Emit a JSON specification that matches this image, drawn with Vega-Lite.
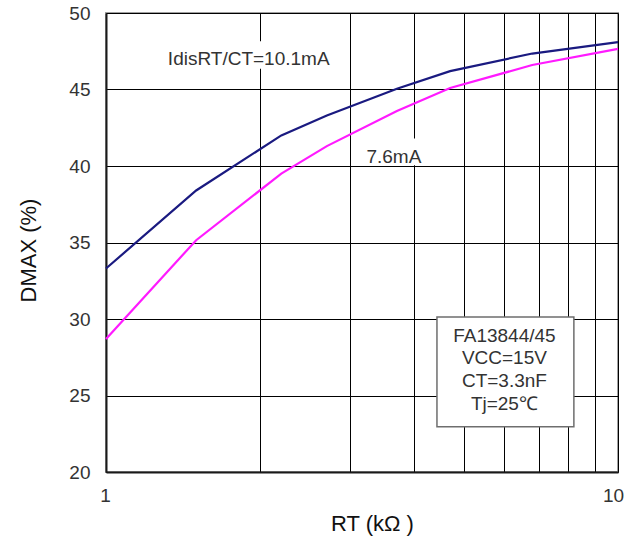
{
  "$schema": "https://vega.github.io/schema/vega-lite/v6.json",
  "width": 512,
  "height": 459,
  "autosize": {"type": "none"},
  "padding": {"left": 106, "top": 13, "right": 20, "bottom": 74},
  "background": "white",
  "config": {
    "font": "Liberation Sans",
    "view": {"stroke": "#a0a0a0", "strokeWidth": 2},
    "axis": {
      "domainColor": "#1a1a1a",
      "domainWidth": 2,
      "gridColor": "#000000",
      "gridWidth": 1,
      "gridOpacity": 1,
      "ticks": false,
      "labelFont": "Liberation Sans",
      "labelFontSize": 19,
      "labelColor": "#333333",
      "titleFont": "Liberation Sans",
      "titleFontSize": 22,
      "titleFontWeight": "normal",
      "titleColor": "#111111"
    }
  },
  "datasets": {
    "curves": [
      {"series": "10.1mA", "rt": 1.0, "dmax": 33.3},
      {"series": "10.1mA", "rt": 1.5, "dmax": 38.4},
      {"series": "10.1mA", "rt": 2.2, "dmax": 42.0},
      {"series": "10.1mA", "rt": 2.7, "dmax": 43.3},
      {"series": "10.1mA", "rt": 3.7, "dmax": 45.05},
      {"series": "10.1mA", "rt": 4.7, "dmax": 46.2},
      {"series": "10.1mA", "rt": 6.8, "dmax": 47.35},
      {"series": "10.1mA", "rt": 10.0, "dmax": 48.1},
      {"series": "7.6mA", "rt": 1.0, "dmax": 28.7},
      {"series": "7.6mA", "rt": 1.5, "dmax": 35.15},
      {"series": "7.6mA", "rt": 2.2, "dmax": 39.5},
      {"series": "7.6mA", "rt": 2.7, "dmax": 41.3},
      {"series": "7.6mA", "rt": 3.7, "dmax": 43.6},
      {"series": "7.6mA", "rt": 4.7, "dmax": 45.1},
      {"series": "7.6mA", "rt": 6.8, "dmax": 46.6},
      {"series": "7.6mA", "rt": 10.0, "dmax": 47.65}
    ],
    "labels": [
      {"text": "IdisRT/CT=10.1mA", "rt": 1.9, "dmax": 47.0, "x1": 1.29, "x2": 2.78, "y1": 46.35, "y2": 48.15},
      {"text": "7.6mA", "rt": 3.65, "dmax": 40.6, "x1": 3.15, "x2": 4.2, "y1": 40.05, "y2": 41.8}
    ],
    "conditions": [
      {"text": "FA13844/45", "rt": 6.0, "dmax": 28.89},
      {"text": "VCC=15V", "rt": 6.0, "dmax": 27.42},
      {"text": "CT=3.3nF", "rt": 6.0, "dmax": 25.92},
      {"text": "Tj=25℃", "rt": 6.0, "dmax": 24.45}
    ],
    "box": [
      {"x1": 4.43, "x2": 8.2, "y1": 22.95, "y2": 30.13}
    ]
  },
  "layer": [
    {
      "data": {"name": "curves"},
      "mark": {"type": "line", "strokeWidth": 2.2, "interpolate": "linear"},
      "encoding": {
        "x": {
          "field": "rt", "type": "quantitative",
          "scale": {"type": "log", "domain": [1, 10], "nice": false},
          "axis": {
            "title": "RT (kΩ )",
            "values": [1, 2, 3, 4, 5, 6, 7, 8, 9, 10],
            "grid": true,
            "labelExpr": "datum.value == 1 || datum.value == 10 ? datum.value : ''",
            "labelPadding": 14,
            "labelFlush": false,
            "labelOffset": {"condition": {"test": "datum.value == 10", "value": -5}, "value": -1},
            "labelOverlap": false,
            "titleX": 266,
            "titleY": 51,
            "titleBaseline": "middle",
            "titleAlign": "center"
          }
        },
        "y": {
          "field": "dmax", "type": "quantitative",
          "scale": {"domain": [20, 50], "nice": false, "zero": false},
          "axis": {
            "title": "DMAX (%)",
            "values": [20, 25, 30, 35, 40, 45, 50],
            "labelPadding": 16,
            "titleAngle": -90,
            "titleX": -78,
            "titleY": 237,
            "titleBaseline": "middle",
            "titleAlign": "center"
          }
        },
        "color": {
          "field": "series", "type": "nominal",
          "scale": {"domain": ["10.1mA", "7.6mA"], "range": ["#1a1a80", "#ff1aff"]},
          "legend": null
        }
      }
    },
    {
      "data": {"name": "box"},
      "mark": {"type": "rect", "fill": "white", "stroke": "#6e6e6e", "strokeWidth": 1.5},
      "encoding": {
        "x": {"field": "x1", "type": "quantitative"},
        "x2": {"field": "x2"},
        "y": {"field": "y1", "type": "quantitative"},
        "y2": {"field": "y2"}
      }
    },
    {
      "data": {"name": "labels"},
      "mark": {"type": "rect", "fill": "white"},
      "encoding": {
        "x": {"field": "x1", "type": "quantitative"},
        "x2": {"field": "x2"},
        "y": {"field": "y1", "type": "quantitative"},
        "y2": {"field": "y2"}
      }
    },
    {
      "data": {"name": "labels"},
      "mark": {"type": "text", "fontSize": 19, "font": "Liberation Sans", "color": "#333333", "align": "center", "baseline": "middle"},
      "encoding": {
        "x": {"field": "rt", "type": "quantitative"},
        "y": {"field": "dmax", "type": "quantitative"},
        "text": {"field": "text"}
      }
    },
    {
      "data": {"name": "conditions"},
      "mark": {"type": "text", "fontSize": 19, "font": "Liberation Sans", "color": "#333333", "align": "center", "baseline": "middle"},
      "encoding": {
        "x": {"field": "rt", "type": "quantitative"},
        "y": {"field": "dmax", "type": "quantitative"},
        "text": {"field": "text"}
      }
    }
  ]
}
